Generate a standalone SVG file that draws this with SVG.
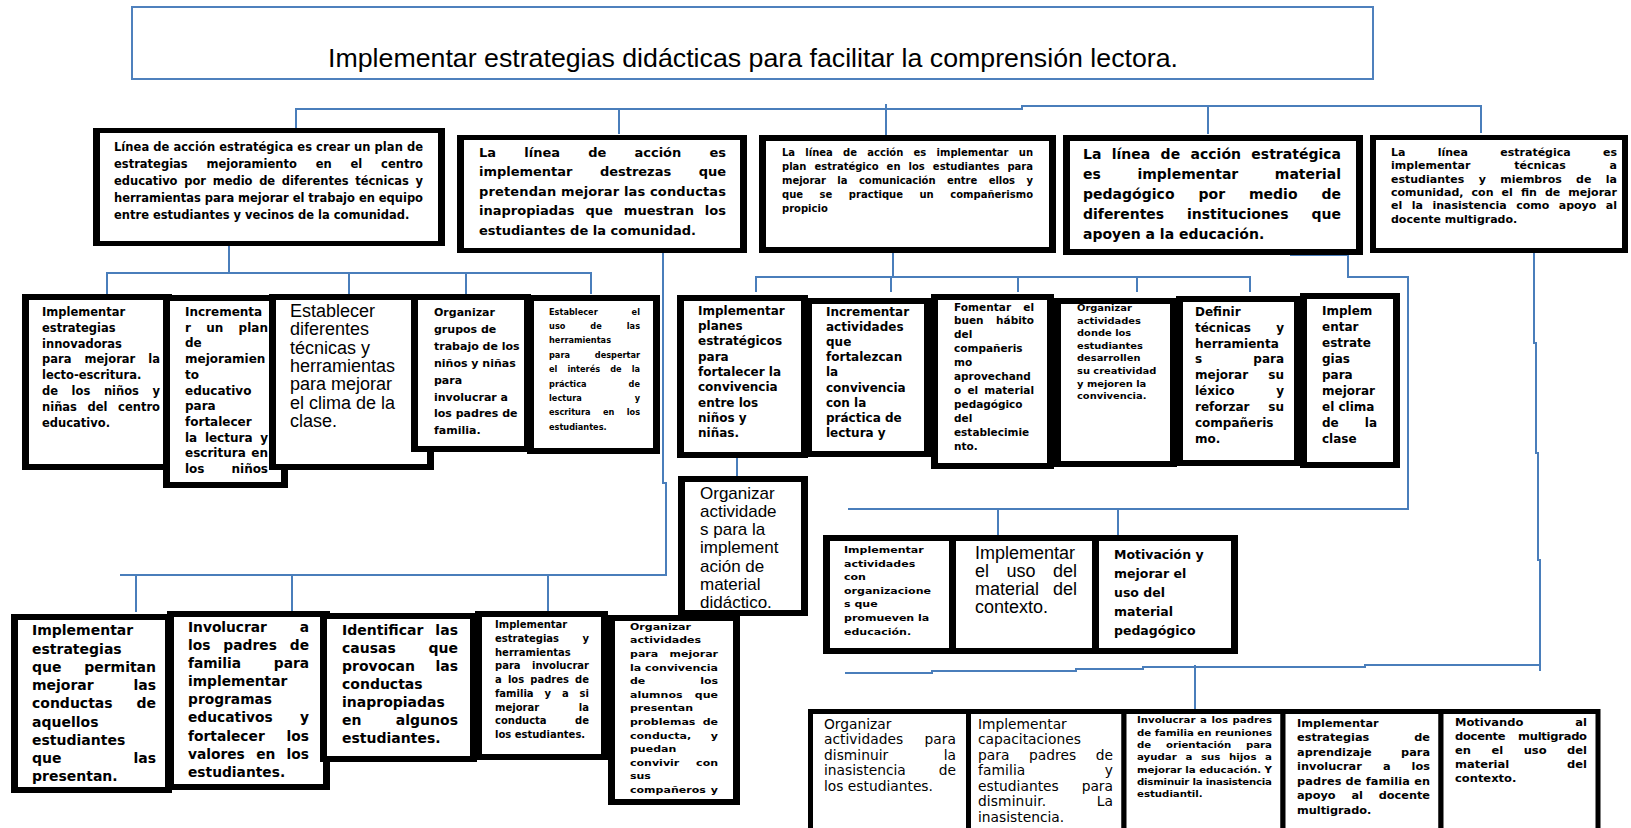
<svg xmlns="http://www.w3.org/2000/svg" width="1631" height="828" viewBox="0 0 1631 828">
<style>
.c{fill:none;stroke:#4a7ebb;stroke-width:2}
.ob{fill:#000}
.ib{fill:#fff}
text{font-family:"DejaVu Sans",Verdana,sans-serif;font-weight:bold;fill:#000}
.a text,text.a{font-family:"Liberation Sans",Arial,sans-serif;font-weight:normal}
.r text{font-weight:normal}
</style>
<rect width="1631" height="828" fill="#fff"/>
<g id="title">
<rect x="132" y="7" width="1241" height="72" fill="#fff" stroke="#4f81bd" stroke-width="2"/>
<text class="a" x="328" y="67" font-size="25" textLength="850" lengthAdjust="spacingAndGlyphs">Implementar estrategias didácticas para facilitar la comprensión lectora.</text>
</g>
<g id="connectors">
<path class="c" d="M296,130 V109 H1022 V106 H1481 V133 M619,109 V134 M886,104 V135 M1208,106 V134"/>
<path class="c" d="M229,246 V273 M107,294 V273 H591 V294 M349,273 V294 M466,273 V294"/>
<path class="c" d="M663,253 V483 H666 V575 H120 M136,575 V612 M292,575 V611 M548,575 V611 M681,575 V598"/>
<path class="c" d="M893,253 V277 M756,292 V277 H1250 V292 M891,277 V292 M1018,277 V292 M1137,277 V292"/>
<path class="c" d="M737,458 V476"/>
<path class="c" d="M1290,255 H1348 V277 H1408 V509 H848 M998,509 V535 M1118,509 V535"/>
<path class="c" d="M1534,253 V343 H1536 V453 H1538 V560 H1540 V671 M845,673 H932 V671 H1076 V669 H1143 V667 H1365 V665 H1540 M1195,665 V711"/>
</g>
<g id="n1" font-size="11.5">
<rect class="ob" x="93" y="128" width="352" height="118"/>
<rect class="ib" x="100" y="133" width="338" height="108"/>
<text x="114" y="150.5" textLength="309" lengthAdjust="spacing">Línea de acción estratégica es crear un plan de</text>
<text x="114" y="167.6" textLength="309" lengthAdjust="spacing" word-spacing="14.8">estrategias mejoramiento en el centro</text>
<text x="114" y="184.7" textLength="309" lengthAdjust="spacing" word-spacing="2.7">educativo por medio de diferentes técnicas y</text>
<text x="114" y="201.8" textLength="309" lengthAdjust="spacing">herramientas para mejorar el trabajo en equipo</text>
<text x="114" y="218.9">entre estudiantes y vecinos de la comunidad.</text>
</g>
<g id="n2" font-size="13">
<rect class="ob" x="457" y="135" width="290" height="118"/>
<rect class="ib" x="464" y="140" width="276" height="108"/>
<text x="479" y="156.6" textLength="247" lengthAdjust="spacing" word-spacing="23.7">La línea de acción es</text>
<text x="479" y="176.2" textLength="247" lengthAdjust="spacing" word-spacing="23">implementar destrezas que</text>
<text x="479" y="195.8" textLength="247" lengthAdjust="spacing">pretendan mejorar las conductas</text>
<text x="479" y="215.4" textLength="247" lengthAdjust="spacing" word-spacing="6.4">inapropiadas que muestran los</text>
<text x="479" y="235">estudiantes de la comunidad.</text>
</g>
<g id="n3" font-size="10">
<rect class="ob" x="759" y="135" width="297" height="118"/>
<rect class="ib" x="766" y="141" width="283" height="106"/>
<text x="782" y="156.3" textLength="251" lengthAdjust="spacing" word-spacing="6.8">La línea de acción es implementar un</text>
<text x="782" y="170.3" textLength="251" lengthAdjust="spacing" word-spacing="4.6">plan estratégico en los estudiantes para</text>
<text x="782" y="184.3" textLength="251" lengthAdjust="spacing" word-spacing="8">mejorar la comunicación entre ellos y</text>
<text x="782" y="198.3" textLength="251" lengthAdjust="spacing" word-spacing="13">que se practique un compañerismo</text>
<text x="782" y="212.3">propicio</text>
</g>
<g id="n4" font-size="14">
<rect class="ob" x="1063" y="135" width="300" height="120"/>
<rect class="ib" x="1070" y="141" width="286" height="108"/>
<text x="1083" y="158.5" textLength="258" lengthAdjust="spacing" word-spacing="5.5">La línea de acción estratégica</text>
<text x="1083" y="178.5" textLength="258" lengthAdjust="spacing" word-spacing="31.7">es implementar material</text>
<text x="1083" y="198.5" textLength="258" lengthAdjust="spacing" word-spacing="19">pedagógico por medio de</text>
<text x="1083" y="218.5" textLength="258" lengthAdjust="spacing" word-spacing="18">diferentes instituciones que</text>
<text x="1083" y="238.5">apoyen a la educación.</text>
</g>
<g id="n5" font-size="11">
<rect class="ob" x="1370" y="135" width="258" height="118"/>
<rect class="ib" x="1376" y="140" width="246" height="108"/>
<text x="1391" y="156" textLength="226" lengthAdjust="spacing" word-spacing="28.5">La línea estratégica es</text>
<text x="1391" y="169.3" textLength="226" lengthAdjust="spacing" word-spacing="40">implementar técnicas a</text>
<text x="1391" y="182.6" textLength="226" lengthAdjust="spacing" word-spacing="10.5">estudiantes y miembros de la</text>
<text x="1391" y="195.9" textLength="226" lengthAdjust="spacing" word-spacing="4.2">comunidad, con el fin de mejorar</text>
<text x="1391" y="209.2" textLength="226" lengthAdjust="spacing" word-spacing="5.7">el la inasistencia como apoyo al</text>
<text x="1391" y="222.5">docente multigrado.</text>
</g>
<g id="nA" font-size="11.5">
<rect class="ob" x="22" y="294" width="150" height="176"/>
<rect class="ib" x="29" y="300" width="136" height="164"/>
<text x="42" y="316">Implementar</text>
<text x="42" y="331.8">estrategias</text>
<text x="42" y="347.6">innovadoras</text>
<text x="42" y="363.4" textLength="118" lengthAdjust="spacing" word-spacing="9">para mejorar la</text>
<text x="42" y="379.2">lecto-escritura.</text>
<text x="42" y="395" textLength="118" lengthAdjust="spacing" word-spacing="9.6">de los niños y</text>
<text x="42" y="410.8" textLength="118" lengthAdjust="spacing" word-spacing="6.6">niñas del centro</text>
<text x="42" y="426.6">educativo.</text>
</g>
<g id="nB" font-size="12">
<rect class="ob" x="163" y="295" width="125" height="193"/>
<rect class="ib" x="170" y="301" width="111" height="181"/>
<text x="185" y="316">Incrementa</text>
<text x="185" y="331.7" textLength="83" lengthAdjust="spacing" word-spacing="11">r un plan</text>
<text x="185" y="347.4">de</text>
<text x="185" y="363.1">mejoramien</text>
<text x="185" y="378.8">to</text>
<text x="185" y="394.5">educativo</text>
<text x="185" y="410.2">para</text>
<text x="185" y="425.9">fortalecer</text>
<text x="185" y="441.6" textLength="83" lengthAdjust="spacing" word-spacing="3.5">la lectura y</text>
<text x="185" y="457.3" textLength="83" lengthAdjust="spacing" word-spacing="1.4">escritura en</text>
<text x="185" y="473" textLength="83" lengthAdjust="spacing" word-spacing="23">los niños</text>
</g>
<g id="nC" class="a" font-size="18">
<rect class="ob" x="269" y="294" width="165" height="176"/>
<rect class="ib" x="276" y="300" width="151" height="164"/>
<text x="290" y="317">Establecer</text>
<text x="290" y="335.3">diferentes</text>
<text x="290" y="353.6">técnicas y</text>
<text x="290" y="371.9">herramientas</text>
<text x="290" y="390.2">para mejorar</text>
<text x="290" y="408.5">el clima de la</text>
<text x="290" y="426.8">clase.</text>
</g>
<g id="nD" font-size="11">
<rect class="ob" x="411" y="294" width="120" height="158"/>
<rect class="ib" x="418" y="300" width="106" height="146"/>
<text x="434" y="316">Organizar</text>
<text x="434" y="332.9">grupos de</text>
<text x="434" y="349.8">trabajo de los</text>
<text x="434" y="366.7">niños y niñas</text>
<text x="434" y="383.6">para</text>
<text x="434" y="400.5">involucrar a</text>
<text x="434" y="417.4">los padres de</text>
<text x="434" y="434.3">familia.</text>
</g>
<g id="nE" font-size="8.2">
<rect class="ob" x="527" y="295" width="133" height="159"/>
<rect class="ib" x="534" y="301" width="119" height="147"/>
<text x="549" y="314.5" textLength="91" lengthAdjust="spacing" word-spacing="31">Establecer el</text>
<text x="549" y="328.9" textLength="91" lengthAdjust="spacing" word-spacing="22">uso de las</text>
<text x="549" y="343.3">herramientas</text>
<text x="549" y="357.7" textLength="91" lengthAdjust="spacing" word-spacing="22">para despertar</text>
<text x="549" y="372.1" textLength="91" lengthAdjust="spacing" word-spacing="7.2">el interés de la</text>
<text x="549" y="386.5" textLength="91" lengthAdjust="spacing" word-spacing="39">práctica de</text>
<text x="549" y="400.9" textLength="91" lengthAdjust="spacing" word-spacing="50">lectura y</text>
<text x="549" y="415.3" textLength="91" lengthAdjust="spacing" word-spacing="9.5">escritura en los</text>
<text x="549" y="429.7">estudiantes.</text>
</g>
<g id="nF" font-size="12">
<rect class="ob" x="677" y="295" width="131" height="163"/>
<rect class="ib" x="684" y="301" width="117" height="151"/>
<text x="698" y="314.7">Implementar</text>
<text x="698" y="330">planes</text>
<text x="698" y="345.3">estratégicos</text>
<text x="698" y="360.6">para</text>
<text x="698" y="375.9">fortalecer la</text>
<text x="698" y="391.2">convivencia</text>
<text x="698" y="406.5">entre los</text>
<text x="698" y="421.8">niños y</text>
<text x="698" y="437.1">niñas.</text>
</g>
<g id="nG" font-size="12">
<rect class="ob" x="805" y="298" width="126" height="159"/>
<rect class="ib" x="812" y="304" width="112" height="147"/>
<text x="826" y="316">Incrementar</text>
<text x="826" y="331.1">actividades</text>
<text x="826" y="346.2">que</text>
<text x="826" y="361.3">fortalezcan</text>
<text x="826" y="376.4">la</text>
<text x="826" y="391.5">convivencia</text>
<text x="826" y="406.6">con la</text>
<text x="826" y="421.7">práctica de</text>
<text x="826" y="436.8">lectura y</text>
</g>
<g id="nH" font-size="10.5">
<rect class="ob" x="931" y="294" width="123" height="175"/>
<rect class="ib" x="938" y="300" width="109" height="163"/>
<text x="954" y="310.5" textLength="80" lengthAdjust="spacing" word-spacing="8.4">Fomentar el</text>
<text x="954" y="324.4" textLength="80" lengthAdjust="spacing" word-spacing="8.8">buen hábito</text>
<text x="954" y="338.3">del</text>
<text x="954" y="352.2">compañeris</text>
<text x="954" y="366.1">mo</text>
<text x="954" y="380">aprovechand</text>
<text x="954" y="393.9" textLength="80" lengthAdjust="spacing" word-spacing="2.5">o el material</text>
<text x="954" y="407.8">pedagógico</text>
<text x="954" y="421.7">del</text>
<text x="954" y="435.6">establecimie</text>
<text x="954" y="449.5">nto.</text>
</g>
<g id="nI" font-size="9">
<rect class="ob" x="1054" y="298" width="123" height="169"/>
<rect class="ib" x="1061" y="304" width="109" height="157"/>
<g transform="translate(1077,0) scale(1.1,1)">
<text x="0" y="311">Organizar</text>
<text x="0" y="323.6">actividades</text>
<text x="0" y="336.2">donde los</text>
<text x="0" y="348.8">estudiantes</text>
<text x="0" y="361.4">desarrollen</text>
<text x="0" y="374">su creatividad</text>
<text x="0" y="386.6">y mejoren la</text>
<text x="0" y="399.2">convivencia.</text>
</g>
</g>
<g id="nJ" font-size="12">
<rect class="ob" x="1176" y="296" width="125" height="170"/>
<rect class="ib" x="1183" y="302" width="111" height="158"/>
<text x="1195" y="315.7">Definir</text>
<text x="1195" y="331.6" textLength="89" lengthAdjust="spacing" word-spacing="21">técnicas y</text>
<text x="1195" y="347.5">herramienta</text>
<text x="1195" y="363.4" textLength="89" lengthAdjust="spacing" word-spacing="47">s para</text>
<text x="1195" y="379.3" textLength="89" lengthAdjust="spacing" word-spacing="16">mejorar su</text>
<text x="1195" y="395.2" textLength="89" lengthAdjust="spacing" word-spacing="37.5">léxico y</text>
<text x="1195" y="411.1" textLength="89" lengthAdjust="spacing" word-spacing="14.7">reforzar su</text>
<text x="1195" y="427">compañeris</text>
<text x="1195" y="442.9">mo.</text>
</g>
<g id="nK" font-size="12">
<rect class="ob" x="1300" y="293" width="100" height="175"/>
<rect class="ib" x="1307" y="299" width="86" height="163"/>
<text x="1322" y="314.7">Implem</text>
<text x="1322" y="330.7">entar</text>
<text x="1322" y="346.7">estrate</text>
<text x="1322" y="362.7">gias</text>
<text x="1322" y="378.7">para</text>
<text x="1322" y="394.7">mejorar</text>
<text x="1322" y="410.7">el clima</text>
<text x="1322" y="426.7" textLength="55" lengthAdjust="spacing" word-spacing="22">de la</text>
<text x="1322" y="442.7">clase</text>
</g>
<g id="nL" class="a" font-size="17">
<rect class="ob" x="678" y="476" width="130" height="140"/>
<rect class="ib" x="685" y="482" width="116" height="128"/>
<text x="700" y="498.5">Organizar</text>
<text x="700" y="516.8">actividade</text>
<text x="700" y="535.1">s para la</text>
<text x="700" y="553.4">implement</text>
<text x="700" y="571.7">ación de</text>
<text x="700" y="590">material</text>
<text x="700" y="608.3">didáctico.</text>
</g>
<g id="nM" font-size="9.6">
<rect class="ob" x="823" y="535" width="133" height="119"/>
<rect class="ib" x="830" y="541" width="119" height="107"/>
<g transform="translate(844,0) scale(1.15,1)">
<text x="0" y="553">Implementar</text>
<text x="0" y="566.6">actividades</text>
<text x="0" y="580.2">con</text>
<text x="0" y="593.8">organizacione</text>
<text x="0" y="607.4">s que</text>
<text x="0" y="621">promueven la</text>
<text x="0" y="634.6">educación.</text>
</g>
</g>
<g id="nN" class="a" font-size="18">
<rect class="ob" x="949" y="535" width="150" height="119"/>
<rect class="ib" x="956" y="541" width="136" height="107"/>
<text x="975" y="559">Implementar</text>
<text x="975" y="577" textLength="102" lengthAdjust="spacing" word-spacing="12.5">el uso del</text>
<text x="975" y="595" textLength="102" lengthAdjust="spacing" word-spacing="9">material del</text>
<text x="975" y="613">contexto.</text>
</g>
<g id="nO" font-size="12.5">
<rect class="ob" x="1092" y="535" width="146" height="119"/>
<rect class="ib" x="1099" y="541" width="132" height="107"/>
<text x="1114" y="558.5">Motivación y</text>
<text x="1114" y="577.5">mejorar el</text>
<text x="1114" y="596.5">uso del</text>
<text x="1114" y="615.5">material</text>
<text x="1114" y="634.5">pedagógico</text>
</g>
<g id="nP" font-size="14">
<rect class="ob" x="11" y="614" width="161" height="179"/>
<rect class="ib" x="18" y="620" width="147" height="167"/>
<text x="32" y="635.3">Implementar</text>
<text x="32" y="653.6">estrategias</text>
<text x="32" y="671.8" textLength="124" lengthAdjust="spacing" word-spacing="18">que permitan</text>
<text x="32" y="690" textLength="124" lengthAdjust="spacing" word-spacing="35">mejorar las</text>
<text x="32" y="708.3" textLength="124" lengthAdjust="spacing" word-spacing="19">conductas de</text>
<text x="32" y="726.6">aquellos</text>
<text x="32" y="744.8">estudiantes</text>
<text x="32" y="763" textLength="124" lengthAdjust="spacing" word-spacing="67">que las</text>
<text x="32" y="781.3">presentan.</text>
</g>
<g id="nQ" font-size="13.8">
<rect class="ob" x="167" y="611" width="163" height="179"/>
<rect class="ib" x="174" y="617" width="149" height="167"/>
<text x="188" y="631.9" textLength="121" lengthAdjust="spacing" word-spacing="28">Involucrar a</text>
<text x="188" y="650" textLength="121" lengthAdjust="spacing" word-spacing="8">los padres de</text>
<text x="188" y="668.1" textLength="121" lengthAdjust="spacing" word-spacing="28">familia para</text>
<text x="188" y="686.2">implementar</text>
<text x="188" y="704.3">programas</text>
<text x="188" y="722.4" textLength="121" lengthAdjust="spacing" word-spacing="22.6">educativos y</text>
<text x="188" y="740.5" textLength="121" lengthAdjust="spacing" word-spacing="17">fortalecer los</text>
<text x="188" y="758.6" textLength="121" lengthAdjust="spacing" word-spacing="6.5">valores en los</text>
<text x="188" y="776.7">estudiantes.</text>
</g>
<g id="nR" font-size="14">
<rect class="ob" x="320" y="613" width="157" height="149"/>
<rect class="ib" x="327" y="619" width="143" height="137"/>
<text x="342" y="635.3" textLength="116" lengthAdjust="spacing" word-spacing="7">Identificar las</text>
<text x="342" y="653.3" textLength="116" lengthAdjust="spacing" word-spacing="28">causas que</text>
<text x="342" y="671.3" textLength="116" lengthAdjust="spacing" word-spacing="15.5">provocan las</text>
<text x="342" y="689.3">conductas</text>
<text x="342" y="707.3">inapropiadas</text>
<text x="342" y="725.3" textLength="116" lengthAdjust="spacing" word-spacing="29.5">en algunos</text>
<text x="342" y="743.3">estudiantes.</text>
</g>
<g id="nS" font-size="10">
<rect class="ob" x="475" y="611" width="133" height="149"/>
<rect class="ib" x="482" y="617" width="119" height="137"/>
<text x="495" y="628.3">Implementar</text>
<text x="495" y="642" textLength="94" lengthAdjust="spacing" word-spacing="20">estrategias y</text>
<text x="495" y="655.7">herramientas</text>
<text x="495" y="669.4" textLength="94" lengthAdjust="spacing" word-spacing="8">para involucrar</text>
<text x="495" y="683.1" textLength="94" lengthAdjust="spacing" word-spacing="2.7">a los padres de</text>
<text x="495" y="696.8" textLength="94" lengthAdjust="spacing" word-spacing="7.4">familia y a si</text>
<text x="495" y="710.5" textLength="94" lengthAdjust="spacing" word-spacing="36">mejorar la</text>
<text x="495" y="724.2" textLength="94" lengthAdjust="spacing" word-spacing="25">conducta de</text>
<text x="495" y="737.9">los estudiantes.</text>
</g>
<g id="nT" font-size="9.5">
<rect class="ob" x="608" y="615" width="132" height="190"/>
<rect class="ib" x="615" y="621" width="118" height="178"/>
<g transform="translate(630,0) scale(1.16,1)">
<text x="0" y="629.8">Organizar</text>
<text x="0" y="643.4">actividades</text>
<text x="0" y="657" textLength="75.9" lengthAdjust="spacing" word-spacing="6.4">para mejorar</text>
<text x="0" y="670.6">la convivencia</text>
<text x="0" y="684.2" textLength="75.9" lengthAdjust="spacing" word-spacing="44">de los</text>
<text x="0" y="697.8" textLength="75.9" lengthAdjust="spacing" word-spacing="7.3">alumnos que</text>
<text x="0" y="711.4">presentan</text>
<text x="0" y="725" textLength="75.9" lengthAdjust="spacing" word-spacing="3">problemas de</text>
<text x="0" y="738.6" textLength="75.9" lengthAdjust="spacing" word-spacing="13.7">conducta, y</text>
<text x="0" y="752.2">puedan</text>
<text x="0" y="765.8" textLength="75.9" lengthAdjust="spacing" word-spacing="11.2">convivir con</text>
<text x="0" y="779.4">sus</text>
<text x="0" y="793" textLength="75.9" lengthAdjust="spacing" word-spacing="1">compañeros y</text>
</g>
</g>
<g id="nU" class="r" font-size="13.8">
<rect class="ob" x="808" y="709" width="163" height="150"/>
<rect class="ib" x="813" y="714" width="153" height="150"/>
<text x="824" y="728.5">Organizar</text>
<text x="824" y="744" textLength="132" lengthAdjust="spacing" word-spacing="17">actividades para</text>
<text x="824" y="759.5" textLength="132" lengthAdjust="spacing" word-spacing="51">disminuir la</text>
<text x="824" y="775" textLength="132" lengthAdjust="spacing" word-spacing="28.6">inasistencia de</text>
<text x="824" y="790.5">los estudiantes.</text>
</g>
<g id="nV" class="r" font-size="13.8">
<rect class="ob" x="966" y="709" width="160.5" height="150"/>
<rect class="ib" x="971" y="714" width="150.5" height="150"/>
<text x="978" y="728.5">Implementar</text>
<text x="978" y="744">capacitaciones</text>
<text x="978" y="759.5" textLength="135" lengthAdjust="spacing" word-spacing="15">para padres de</text>
<text x="978" y="775" textLength="135" lengthAdjust="spacing" word-spacing="75">familia y</text>
<text x="978" y="790.5" textLength="135" lengthAdjust="spacing" word-spacing="18.5">estudiantes para</text>
<text x="978" y="806" textLength="135" lengthAdjust="spacing" word-spacing="46">disminuir. La</text>
<text x="978" y="821.5">inasistencia.</text>
</g>
<g id="nW" font-size="8.5">
<rect class="ob" x="1121.5" y="709" width="164" height="150"/>
<rect class="ib" x="1126.5" y="714" width="154" height="150"/>
<g transform="translate(1137,0) scale(1.2,1)">
<text x="0" y="723.5" textLength="112.5" lengthAdjust="spacing" word-spacing="0.8">Involucrar a los padres</text>
<text x="0" y="735.8" textLength="112.5" lengthAdjust="spacing">de familia en reuniones</text>
<text x="0" y="748.1" textLength="112.5" lengthAdjust="spacing" word-spacing="9.3">de orientación para</text>
<text x="0" y="760.4" textLength="112.5" lengthAdjust="spacing" word-spacing="4.2">ayudar a sus hijos a</text>
<text x="0" y="772.7" textLength="112.5" lengthAdjust="spacing">mejorar la educación. Y</text>
<text x="0" y="785" textLength="112.5" lengthAdjust="spacing">disminuir la inasistencia</text>
<text x="0" y="797.3">estudiantil.</text>
</g>
</g>
<g id="nX" font-size="11.3">
<rect class="ob" x="1280.5" y="709" width="163" height="150"/>
<rect class="ib" x="1285.5" y="714" width="153" height="150"/>
<text x="1297" y="726.5">Implementar</text>
<text x="1297" y="741" textLength="133" lengthAdjust="spacing" word-spacing="41">estrategias de</text>
<text x="1297" y="755.5" textLength="133" lengthAdjust="spacing" word-spacing="25.4">aprendizaje para</text>
<text x="1297" y="770" textLength="133" lengthAdjust="spacing" word-spacing="17">involucrar a los</text>
<text x="1297" y="784.5" textLength="133" lengthAdjust="spacing">padres de familia en</text>
<text x="1297" y="799" textLength="133" lengthAdjust="spacing" word-spacing="12">apoyo al docente</text>
<text x="1297" y="813.5">multigrado.</text>
</g>
<g id="nY" font-size="10">
<rect class="ob" x="1438.5" y="709" width="162" height="150"/>
<rect class="ib" x="1443.5" y="714" width="152" height="150"/>
<g transform="translate(1455,0) scale(1.15,1)">
<text x="0" y="726" textLength="114.8" lengthAdjust="spacing" word-spacing="41.7">Motivando al</text>
<text x="0" y="740" textLength="114.8" lengthAdjust="spacing" word-spacing="7.8">docente multigrado</text>
<text x="0" y="754" textLength="114.8" lengthAdjust="spacing" word-spacing="14.3">en el uso del</text>
<text x="0" y="768" textLength="114.8" lengthAdjust="spacing" word-spacing="46.8">material del</text>
<text x="0" y="782">contexto.</text>
</g>
</g>
</svg>
